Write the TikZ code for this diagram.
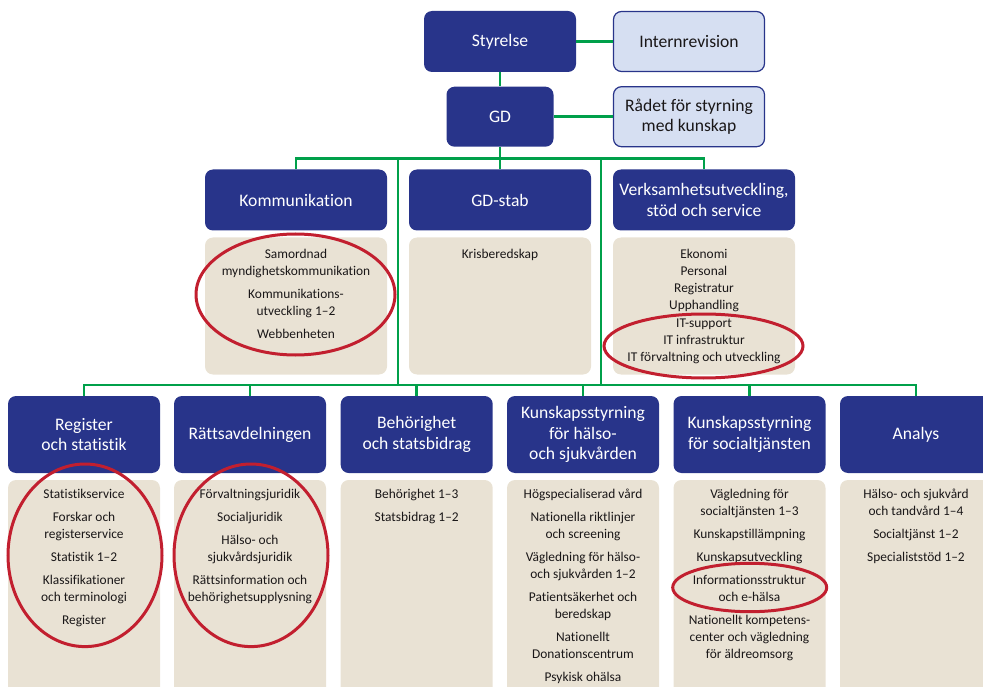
\documentclass[tikz,border=0pt]{standalone}
\usepackage{fontspec}
\setmainfont{Carlito}[Ligatures={NoCommon}]
\definecolor{navy}{HTML}{28348A}
\definecolor{lightbox}{HTML}{D6DFF2}
\definecolor{beige}{HTML}{E9E2D4}
\definecolor{lgreen}{HTML}{00A04A}
\definecolor{ringred}{HTML}{C21F2F}
\definecolor{bodytext}{HTML}{1A1718}
\tikzset{
  darkbox/.style={rectangle, rounded corners=8pt, fill=navy, text=white,
    font=\fontsize{17.6}{20.5}\selectfont, align=center, inner sep=2pt},
  lightnode/.style={rectangle, rounded corners=8pt, fill=lightbox, draw=navy, line width=1.2pt,
    text=bodytext, font=\fontsize{17.6}{20.5}\selectfont, align=center, inner sep=2pt},
  panel/.style={rectangle, rounded corners=8pt, fill=beige, inner sep=0pt},
  itemtext/.style={anchor=north, inner sep=0pt, align=center, text=bodytext,
    font=\fontsize{13.4}{17}\selectfont},
  link/.style={draw=lgreen, line width=2.5pt},
  ring/.style={draw=ringred, line width=3pt}
}
\begin{document}
\begin{tikzpicture}[x=1pt,y=-1pt]
\useasboundingbox (0,0) rectangle (983,687);
\clip (0,0) rectangle (983,687);
% top level
\node[darkbox, minimum width=152pt, minimum height=61pt] (sty) at (500,41.5) {Styrelse};
\node[lightnode, minimum width=151pt, minimum height=60pt] (int) at (689,41.5) {Internrevision};
\node[darkbox, minimum width=107pt, minimum height=60pt] (gd) at (500,116.7) {GD};
\node[lightnode, minimum width=151pt, minimum height=60pt] (rad) at (689,116.7) {Rådet för styrning\\med kunskap};
% middle level
\node[darkbox, minimum width=182pt, minimum height=61pt] (kom) at (296,200) {Kommunikation};
\node[darkbox, minimum width=182pt, minimum height=61pt] (stab) at (500,200) {GD-stab};
\node[darkbox, minimum width=182pt, minimum height=61pt] (verk) at (704,200) {Verksamhetsutveckling,\\stöd och service};
\node[panel, minimum width=182pt, minimum height=137pt] (pkom) at (296,306) {};
\node[panel, minimum width=182pt, minimum height=137pt] (pstab) at (500,306) {};
\node[panel, minimum width=182pt, minimum height=137pt] (pverk) at (704,306) {};
\node[itemtext] (tkom) at (296,248.5) {Samordnad\\myndighetskommunikation\\[6pt]Kommunikations-\\utveckling 1–2\\[6pt]Webbenheten};
\node[itemtext] (tstab) at (500,248.5) {Krisberedskap};
\node[itemtext, font=\fontsize{13.4}{17.3}\selectfont] (tverk) at (704,248.5) {Ekonomi\\Personal\\Registratur\\Upphandling\\IT-support\\IT infrastruktur\\IT förvaltning och utveckling};
% bottom level
\foreach \n/\x/\t in {reg/84/{Register\\och statistik}, ratt/250/{Rättsavdelningen},
   beh/416.7/{Behörighet\\och statsbidrag}, ksh/583/{Kunskapsstyrning\\för hälso-\\och sjukvården},
   kss/749.5/{Kunskapsstyrning\\för socialtjänsten}, ana/916/{Analys}}{
  \node[darkbox, minimum width=152pt, minimum height=77pt] (\n) at (\x,434.5) {\t};
  \node[panel, minimum width=152pt, minimum height=230pt] (p\n) at (\x,595) {};
}
\node[itemtext] (treg) at (84,488.5) {Statistikservice\\[6pt]Forskar och\\registerservice\\[6pt]Statistik 1–2\\[6pt]Klassifikationer\\och terminologi\\[6pt]Register};
\node[itemtext] (tratt) at (250,488.5) {Förvaltningsjuridik\\[6pt]Socialjuridik\\[6pt]Hälso- och\\sjukvårdsjuridik\\[6pt]Rättsinformation och\\behörighetsupplysning};
\node[itemtext] (tbeh) at (416.7,488.5) {Behörighet 1–3\\[6pt]Statsbidrag 1–2};
\node[itemtext] (tksh) at (583,488.5) {Högspecialiserad vård\\[6pt]Nationella riktlinjer\\och screening\\[6pt]Vägledning för hälso-\\och sjukvården 1–2\\[6pt]Patientsäkerhet och\\beredskap\\[6pt]Nationellt\\Donationscentrum\\[6pt]Psykisk ohälsa};
\node[itemtext] (tkss) at (749.5,488.5) {Vägledning för\\socialtjänsten 1–3\\[6pt]Kunskapstillämpning\\[6pt]Kunskapsutveckling\\[6pt]Informationsstruktur\\och e-hälsa\\[6pt]Nationellt kompetens-\\center och vägledning\\för äldreomsorg};
\node[itemtext] (tana) at (916,488.5) {Hälso- och sjukvård\\och tandvård 1–4\\[6pt]Socialtjänst 1–2\\[6pt]Specialiststöd 1–2};
% connectors
\coordinate (busA) at (500,158.3);
\coordinate (jA) at (398,158.3);
\coordinate (jB) at (601,158.3);
\coordinate (busB) at (500,385);
\draw[link] (sty) -- (int);
\draw[link] (sty) -- (gd);
\draw[link] (gd) -- (rad);
\draw[link] (gd) -- (busA);
\draw[link] (kom.north) |- (busA);
\draw[link] (verk.north) |- (busA);
\draw[link] (stab.north) -- (busA);
\draw[link] (jA) -- (jA |- busB);
\draw[link] (jB) -- (jB |- busB);
\draw[link] (reg.north) |- (busB);
\draw[link] (ana.north) |- (busB);
\draw[link] (ratt.north) -- (ratt.north |- busB);
\draw[link] (beh.north) -- (beh.north |- busB);
\draw[link] (ksh.north) -- (ksh.north |- busB);
\draw[link] (kss.north) -- (kss.north |- busB);
% red rings
\draw[ring] (295.5,294.5) ellipse [x radius=99.5, y radius=60.5];
\draw[ring] (703.5,346) ellipse [x radius=99.5, y radius=32];
\draw[ring] (85,555.3) ellipse [x radius=77, y radius=91.3];
\draw[ring] (251,555.3) ellipse [x radius=77, y radius=91.3];
\draw[ring] (749.7,587.5) ellipse [x radius=77, y radius=24.2];
\end{tikzpicture}
\end{document}
